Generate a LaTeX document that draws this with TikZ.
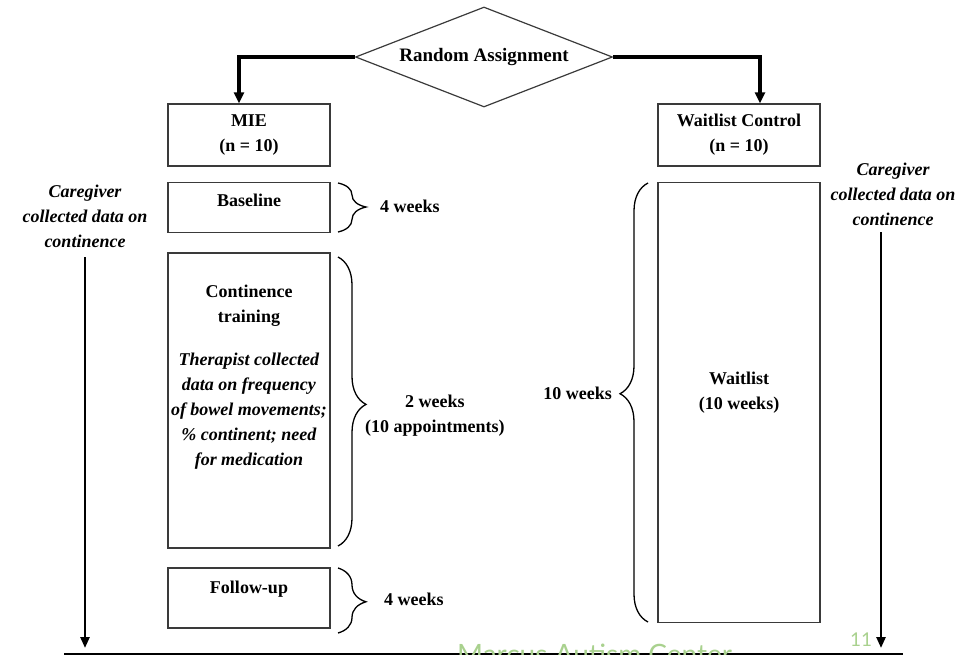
\documentclass[tikz,border=0pt]{standalone}
\usepackage{fontspec}
\setmainfont{Liberation Serif}
\newfontfamily\footfont{Lato}
\usetikzlibrary{shapes.geometric,arrows.meta,decorations.pathreplacing,calc}
\definecolor{boxline}{HTML}{3A3A3A}
\definecolor{mgreen}{HTML}{A9D18E}
\begin{document}
\begin{tikzpicture}[x=1pt,y=-1pt,
  every node/.style={font=\fontsize{18}{25}\selectfont\bfseries, inner sep=0pt},
  box/.style={draw=boxline, line width=1.3pt, minimum width=162pt},
  txt/.style={align=center},
  itxt/.style={align=center, font=\fontsize{18}{25}\selectfont\bfseries\itshape},
  flow/.style={line width=3.5pt, -{Triangle[length=11pt,width=10pt]}},
  timeline/.style={line width=2.5pt, -{Triangle[length=11pt,width=9pt]}},
  br/.style={decorate, decoration={brace, amplitude=28pt, aspect=#1}, line width=1.3pt},
  br/.default=0.5,
]
\useasboundingbox (0,0) rectangle (958,655);
\clip (0,0) rectangle (958,655);

% decision
\node[draw=boxline, line width=1.2pt, diamond, aspect=2.57,
      minimum width=257pt, minimum height=100pt,
      font=\fontsize{19}{23}\selectfont\bfseries] (ra) at (484,57) {Random Assignment};

% group boxes
\node[box, minimum height=62pt, txt] (mie) at (249,135) {MIE\\(n = 10)};
\node[box, minimum height=62pt, txt] (wc) at (739,135) {Waitlist Control\\(n = 10)};

\draw[flow] (ra.west) -| ([xshift=-10pt]mie.north);
\draw[flow] (ra.east) -| ([xshift=21pt]wc.north);

% MIE phases
\node[box, minimum height=50pt] (base) at (249,207.5) {};
\node (baset) at (249,200) {Baseline};

\node[box, minimum height=295pt] (cont) at (249,400.5) {};
\node[txt] (contt) at (249,377) {Continence\\training\\[18pt]
  \textit{Therapist collected}\\\textit{data on frequency}\\\textit{of bowel movements;}\\
  \textit{\% continent; need}\\\textit{for medication}};

\node[box, minimum height=60pt] (fu) at (249,598) {};
\node (fut) at (249,589) {Follow-up};

% waitlist
\node[box, minimum height=440pt] (wl) at (739,402.5) {};
\node[txt] (wlt) at (739,392.5) {Waitlist\\(10 weeks)};

% braces
\draw[br=0.49] (338,183) -- (338,232);
\draw[br=0.51] (338,257) -- (338,546);
\draw[br=0.52] (338,568) -- (338,633);
\draw[br=0.52] (648,622) -- (648,183);

\node[anchor=west] (w1) at (380,206) {4 weeks};
\node[anchor=west, txt] (w2) at (365,416) {2 weeks\\(10 appointments)};
\node[anchor=west] (w3) at (384,599) {4 weeks};
\node[anchor=east] (w4) at (612,393) {10 weeks};

% caregiver timelines
\node[itxt] (cgl) at (85,216) {Caregiver\\collected data on\\continence};
\node[itxt] (cgr) at (893,194) {Caregiver\\collected data on\\continence};
\coordinate (tl0) at (85,257);
\coordinate (tl1) at (85,648);
\coordinate (tr0) at (881,232);
\coordinate (tr1) at (881,648);
\draw[timeline] (tl0) -- (tl1);
\draw[timeline] (tr0) -- (tr1);

% bottom rule and footer
\coordinate (b0) at (64,654.5);
\coordinate (b1) at (903,654.5);
\draw[line width=2.5pt] (b0) -- (b1);
\node[font=\footfont\fontsize{28}{28}\selectfont, text=mgreen, anchor=base west] (mac) at (457,664) {Marcus Autism Center};
\node[font=\footfont\fontsize{19}{19}\selectfont, text=mgreen, anchor=base west] (pg) at (850,646) {11};
\end{tikzpicture}
\end{document}
